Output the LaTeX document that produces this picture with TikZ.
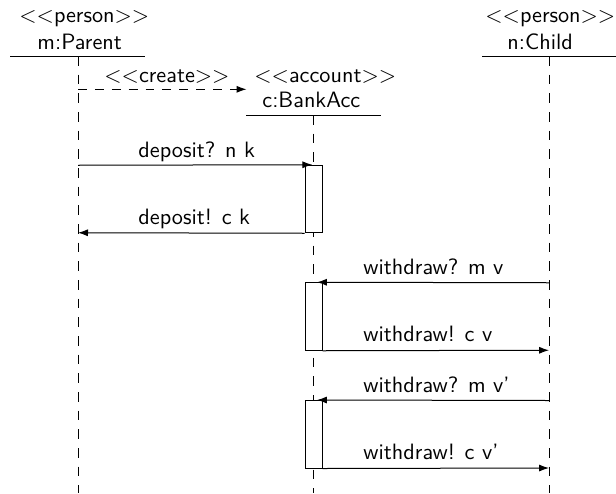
\documentclass[tikz,border=0pt]{standalone}
\usepackage{fontspec}
\usetikzlibrary{arrows.meta}
\begin{document}
\begin{tikzpicture}[x=0.45pt,y=-0.45pt,
  font=\sffamily\fontsize{10}{12}\selectfont,
  txt/.style={anchor=base west, inner sep=0pt},
  life/.style={dash pattern=on 4.3pt off 4.1pt, line width=0.45pt},
  createline/.style={dash pattern=on 4pt off 3.6pt, line width=0.45pt},
  msg/.style={-{Latex[length=4.5pt,width=3.2pt]}, line width=0.45pt},
  act/.style={draw, fill=white, minimum width=7.65pt, minimum height=30.375pt, inner sep=0pt, line width=0.45pt},
  head/.style={line width=0.4pt}]
\useasboundingbox (0,0) rectangle (616,493);

% headers
\node[txt] (pS) at (19,22) {$<<$person$>>$};
\node[txt] (pN) at (37,49.3) {m:Parent};
\node[txt] (cS) at (485,22) {$<<$person$>>$};
\node[txt] (cN) at (507,49.3) {n:Child};
\node[txt] (bS) at (254,82.5) {$<<$account$>>$};
\node[txt] (bN) at (262,107) {c:BankAcc};

\coordinate (pHL) at (10,56);  \coordinate (pHR) at (145,56);
\coordinate (cHL) at (482,56); \coordinate (cHR) at (616,56);
\coordinate (bHL) at (246,115); \coordinate (bHR) at (381,115);
\draw[head] (pHL) -- (pHR);
\draw[head] (cHL) -- (cHR);
\draw[head] (bHL) -- (bHR);

% lifelines
\coordinate (pTop) at (78,56);   \coordinate (pBot) at (78,493);
\coordinate (cTop) at (549,56);  \coordinate (cBot) at (549,493);
\coordinate (bTop) at (313.5,115); \coordinate (bBot) at (313.5,493);
\draw[life] (pTop) -- (pBot);
\draw[life] (cTop) -- (cBot);
\draw[life] (bTop) -- (bBot);

% create
\coordinate (pc) at (78,89.3);
\coordinate (bc) at (246.5,89.3);
\draw[msg,createline] (pc) -- (bc);
\node[txt] (lcreate) at (104,82.7) {$<<$create$>>$};

% activations
\node[act] (a1) at (313.5,199) {};
\node[act] (a2) at (313.5,316.5) {};
\node[act] (a3) at (313.5,434.25) {};

% messages
\coordinate (pd1) at (78,165.25);
\coordinate (pd2) at (78,232.75);
\coordinate (cw1) at (549,282.75);
\coordinate (cw2) at (549,350.25);
\coordinate (cw3) at (549,400.5);
\coordinate (cw4) at (549,468);

\draw[msg, shorten >=-3.5pt] (pd1) -- (a1.north west);
\node[txt] (l1) at (138,157.5) {deposit? n k};
\draw[msg] (a1.south west) -- (pd2);
\node[txt] (l2) at (138,224.5) {deposit! c k};

\draw[msg, shorten >=-2.5pt] (cw1) -- (a2.north east);
\node[txt] (l3) at (363,274.5) {withdraw? m v};
\draw[msg] (a2.south east) -- (cw2);
\node[txt] (l4) at (363,341.7) {withdraw! c v};

\draw[msg, shorten >=-2.5pt] (cw3) -- (a3.north east);
\node[txt] (l5) at (363,392.5) {withdraw? m v'};
\draw[msg] (a3.south east) -- (cw4);
\node[txt] (l6) at (363,459.5) {withdraw! c v'};
\end{tikzpicture}
\end{document}
